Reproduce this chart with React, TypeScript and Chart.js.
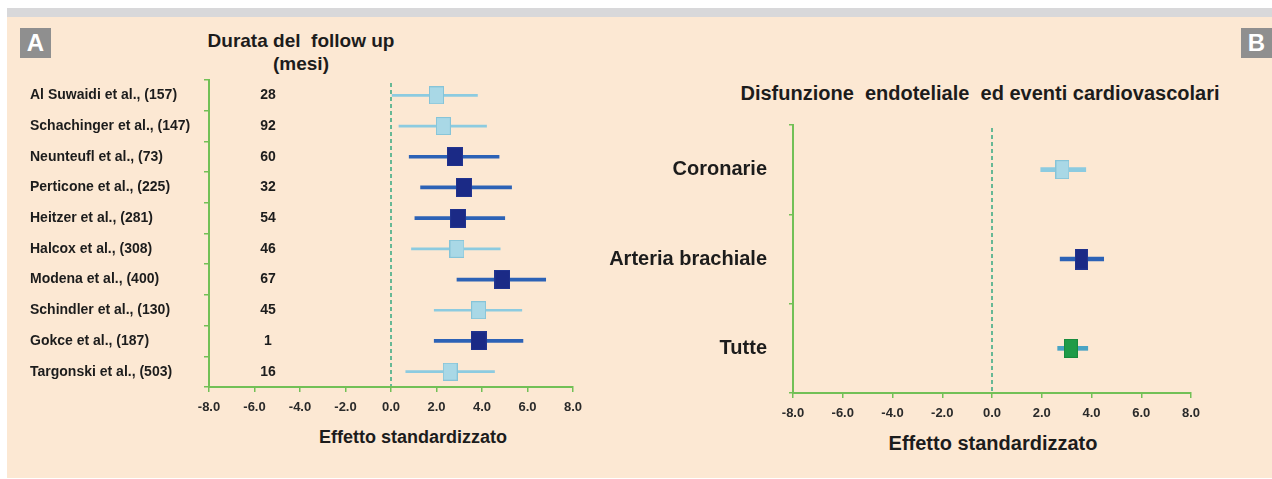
import React, { useEffect, useRef } from "react";
import { Chart, registerables } from "chart.js";

Chart.register(...registerables);

// ---------- Data ----------
const studies = [
  "Al Suwaidi et al., (157)",
  "Schachinger et al., (147)",
  "Neunteufl et al., (73)",
  "Perticone et al., (225)",
  "Heitzer et al., (281)",
  "Halcox et al., (308)",
  "Modena et al., (400)",
  "Schindler et al., (130)",
  "Gokce et al., (187)",
  "Targonski et al., (503)",
];
const followUpMonths = ["28", "92", "60", "32", "54", "46", "67", "45", "1", "16"];
const effectA = [2.0, 2.3, 2.8, 3.2, 2.95, 2.9, 4.9, 3.85, 3.85, 2.6];
const lowA = [0.05, 0.35, 0.8, 1.3, 1.05, 0.9, 2.9, 1.9, 1.9, 0.65];
const highA = [3.8, 4.2, 4.75, 5.3, 5.0, 4.8, 6.8, 5.75, 5.8, 4.55];
const groupA = ["light", "light", "dark", "dark", "dark", "light", "dark", "light", "dark", "light"];

const categoriesB = ["Coronarie", "Arteria brachiale", "Tutte"];
const effectB = [2.83, 3.59, 3.17];
const lowB = [1.96, 2.74, 2.64];
const highB = [3.77, 4.49, 3.85];

const xTicksMin = -8;
const xTicksMax = 8;
const xTicksStep = 2;

// ---------- Styles ----------
const FONT = '"Liberation Sans", Arial, Helvetica, sans-serif';
const TEXT = "#1c1c1c";
const GREEN = "#72c056";
const DASH = "#66b895";
const LIGHT_FILL = "#a9d8e6";
const LIGHT_STROKE = "#86c4d8";
const LIGHT_LINE = "#8ccbe0";
const DARK_FILL = "#1b2a86";
const DARK_STROKE = "#22348f";
const DARK_LINE = "#2c62b6";
const GREEN_FILL = "#1f9b48";
const PEACH = "#fce8d3";

function boxImage(w: number, h: number, fill: string, stroke: string) {
  const c = document.createElement("canvas");
  c.width = w;
  c.height = h;
  const g = c.getContext("2d")!;
  g.fillStyle = fill;
  g.fillRect(0, 0, w, h);
  g.strokeStyle = stroke;
  g.lineWidth = 1;
  g.strokeRect(0.5, 0.5, w - 1, h - 1);
  return c;
}

const zeroLinePlugin = {
  id: "zeroLine",
  beforeDatasetsDraw(chart: any) {
    const x = chart.scales.x.getPixelForValue(0);
    const { top, bottom } = chart.chartArea;
    const ctx = chart.ctx;
    ctx.save();
    ctx.setLineDash([4, 3]);
    ctx.strokeStyle = DASH;
    ctx.lineWidth = 2;
    ctx.beginPath();
    ctx.moveTo(x, top + 3);
    ctx.lineTo(x, bottom - 1);
    ctx.stroke();
    ctx.restore();
  },
};

const followUpPlugin = {
  id: "followUp",
  afterDraw(chart: any) {
    const ctx = chart.ctx;
    const y = chart.scales.y;
    const x = chart.chartArea.left + 59;
    ctx.save();
    ctx.fillStyle = TEXT;
    ctx.font = `bold 14px ${FONT}`;
    ctx.textAlign = "center";
    ctx.textBaseline = "middle";
    followUpMonths.forEach((t, i) => ctx.fillText(t, x, y.getPixelForValue(i)));
    ctx.restore();
  },
};

function axisX(tickSize: number, height: number) {
  return {
    type: "linear",
    position: "bottom",
    min: xTicksMin,
    max: xTicksMax,
    grid: { drawOnChartArea: false, color: GREEN, lineWidth: 1.5, tickLength: 5 },
    border: { color: GREEN, width: 2 },
    ticks: {
      stepSize: xTicksStep,
      callback: (v: any) => Number(v).toFixed(1),
      color: "#2a2a2a",
      font: { family: FONT, size: tickSize, weight: "bold" },
      padding: 8,
    },
    afterFit: (s: any) => {
      s.height = height;
    },
  };
}

function ChartA() {
  const ref = useRef<HTMLCanvasElement>(null);
  useEffect(() => {
    const light = boxImage(15, 18, LIGHT_FILL, LIGHT_STROKE);
    const dark = boxImage(16, 19, DARK_FILL, DARK_STROKE);
    const chart = new Chart(ref.current!, {
      type: "bar",
      data: {
        labels: studies,
        datasets: [
          {
            type: "bar",
            data: studies.map((_, i) => (groupA[i] === "light" ? [lowA[i], highA[i]] : null)),
            backgroundColor: LIGHT_LINE,
            barThickness: 2,
            grouped: false,
            order: 2,
          },
          {
            type: "bar",
            data: studies.map((_, i) => (groupA[i] === "dark" ? [lowA[i], highA[i]] : null)),
            backgroundColor: DARK_LINE,
            barThickness: 3,
            grouped: false,
            order: 1,
          },
          {
            type: "line",
            data: effectA.map((v, i) => ({ x: v, y: studies[i] })),
            showLine: false,
            pointRadius: 8,
            pointStyle: (ctx: any) => (groupA[ctx.dataIndex] === "dark" ? dark : light),
            order: 0,
            clip: false,
          },
        ],
      } as any,
      options: {
        indexAxis: "y",
        responsive: false,
        animation: false,
        events: [],
        layout: { padding: { left: 30, top: 80, right: 47, bottom: 0 } },
        plugins: { legend: { display: false }, tooltip: { enabled: false } },
        scales: {
          y: {
            type: "category",
            position: "left",
            offset: true,
            grid: { offset: true, drawOnChartArea: false, color: GREEN, lineWidth: 1.5, tickLength: 5 },
            border: { color: GREEN, width: 2 },
            ticks: {
              crossAlign: "far",
              color: TEXT,
              font: { family: FONT, size: 14, weight: "bold" },
              padding: 6,
            },
            afterFit: (s: any) => {
              s.width = 179;
            },
          },
          x: axisX(13, 92),
        },
      } as any,
      plugins: [zeroLinePlugin, followUpPlugin],
    });
    return () => chart.destroy();
  }, []);
  return <canvas ref={ref} width={620} height={479} style={{ position: "absolute", left: 0, top: 0 }} />;
}

function ChartB() {
  const ref = useRef<HTMLCanvasElement>(null);
  useEffect(() => {
    const imgs = [
      boxImage(14, 19, LIGHT_FILL, LIGHT_STROKE),
      boxImage(13, 21, DARK_FILL, DARK_STROKE),
      boxImage(14, 19, GREEN_FILL, "#188a3c"),
    ];
    const lineColors = [LIGHT_LINE, DARK_LINE, "#4aa4c4"];
    const chart = new Chart(ref.current!, {
      type: "bar",
      data: {
        labels: categoriesB,
        datasets: [
          {
            type: "bar",
            data: categoriesB.map((_, i) => [lowB[i], highB[i]]),
            backgroundColor: lineColors,
            barThickness: 4,
            grouped: false,
            order: 1,
          },
          {
            type: "line",
            data: effectB.map((v, i) => ({ x: v, y: categoriesB[i] })),
            showLine: false,
            pointRadius: 8,
            pointStyle: (ctx: any) => imgs[ctx.dataIndex],
            order: 0,
            clip: false,
          },
        ],
      } as any,
      options: {
        indexAxis: "y",
        responsive: false,
        animation: false,
        events: [],
        layout: { padding: { left: 0, top: 125, right: 81, bottom: 0 } },
        plugins: { legend: { display: false }, tooltip: { enabled: false } },
        scales: {
          y: {
            type: "category",
            position: "left",
            offset: true,
            grid: { offset: true, drawOnChartArea: false, color: GREEN, lineWidth: 1.5, tickLength: 4 },
            border: { color: GREEN, width: 2 },
            ticks: {
              crossAlign: "near",
              color: TEXT,
              font: { family: FONT, size: 20, weight: "bold" },
              padding: 22,
            },
            afterFit: (s: any) => {
              s.width = 193;
            },
          },
          x: axisX(13, 86),
        },
      } as any,
      plugins: [zeroLinePlugin],
    });
    return () => chart.destroy();
  }, []);
  return <canvas ref={ref} width={672} height={479} style={{ position: "absolute", left: 600, top: 0 }} />;
}

const textStyle: React.CSSProperties = {
  position: "absolute",
  fontFamily: FONT,
  fontWeight: "bold",
  color: TEXT,
  whiteSpace: "pre",
  transform: "translate(-50%, -50%)",
  lineHeight: 1,
};

const letterBox = (left: number): React.CSSProperties => ({
  position: "absolute",
  left,
  top: 28,
  width: 31,
  height: 30,
  background: "#8f8f8f",
  color: "#ffffff",
  fontFamily: FONT,
  fontWeight: "bold",
  fontSize: 24,
  lineHeight: "30px",
  textAlign: "center",
});

export default function App() {
  return (
    <div style={{ position: "absolute", left: 0, top: 0, width: 1272, height: 479, background: "#ffffff", overflow: "hidden" }}>
      <div style={{ position: "absolute", left: 7, top: 8, width: 1265, height: 9, background: "#d8d8da" }} />
      <div style={{ position: "absolute", left: 7, top: 17, width: 1265, height: 461, background: PEACH }} />
      <div style={letterBox(20)}>A</div>
      <div style={letterBox(1241)}>B</div>
      <div style={{ ...textStyle, left: 301, top: 40, fontSize: 19 }}>{"Durata del  follow up"}</div>
      <div style={{ ...textStyle, left: 301, top: 63, fontSize: 19 }}>(mesi)</div>
      <div style={{ ...textStyle, left: 980, top: 93, fontSize: 20 }}>{"Disfunzione  endoteliale  ed eventi cardiovascolari"}</div>
      <div style={{ ...textStyle, left: 413, top: 437, fontSize: 18 }}>Effetto standardizzato</div>
      <div style={{ ...textStyle, left: 993, top: 443, fontSize: 20 }}>Effetto standardizzato</div>
      <ChartA />
      <ChartB />
    </div>
  );
}
